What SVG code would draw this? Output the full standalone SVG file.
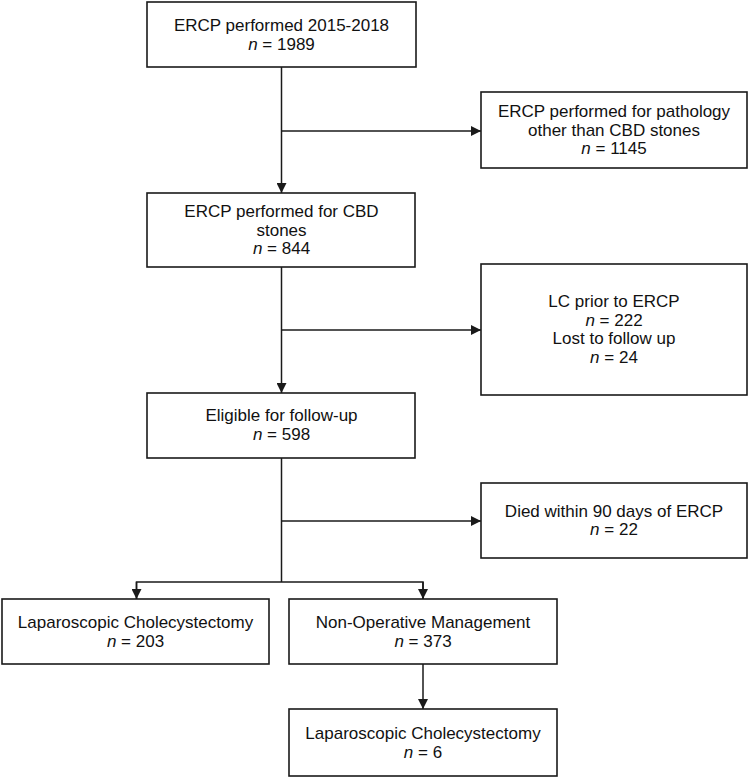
<svg xmlns="http://www.w3.org/2000/svg" width="750" height="778" viewBox="0 0 750 778">
<style>
.box{fill:#fff;stroke:#1a1a1a;stroke-width:1.6}
.ln{fill:none;stroke:#1a1a1a;stroke-width:1.5}
text{font-family:"Liberation Sans",Arial,sans-serif;font-size:17px;fill:#111;text-anchor:middle}
.i{font-style:italic}
</style>
<defs>
<marker id="ah" markerUnits="userSpaceOnUse" markerWidth="10" markerHeight="10" viewBox="0 0 10 10" refX="10" refY="5" orient="auto">
<path d="M0,0 L10,5 L0,10 z" fill="#1a1a1a"/>
</marker>
</defs>
<rect width="750" height="778" fill="#fff"/>
<g id="connectors">
<line class="ln" x1="281.5" y1="67" x2="281.5" y2="193" marker-end="url(#ah)"/>
<line class="ln" x1="281.5" y1="131" x2="481" y2="131" marker-end="url(#ah)"/>
<line class="ln" x1="281.5" y1="267" x2="281.5" y2="393" marker-end="url(#ah)"/>
<line class="ln" x1="281.5" y1="330" x2="481" y2="330" marker-end="url(#ah)"/>
<line class="ln" x1="281.5" y1="458" x2="281.5" y2="582"/>
<line class="ln" x1="281.5" y1="521" x2="481" y2="521" marker-end="url(#ah)"/>
<polyline class="ln" points="136.5,599 136.5,582 423,582 423,599"/>
<line class="ln" x1="136.5" y1="582" x2="136.5" y2="599" marker-end="url(#ah)"/>
<line class="ln" x1="423" y1="582" x2="423" y2="599" marker-end="url(#ah)"/>
<line class="ln" x1="423" y1="664" x2="423" y2="709" marker-end="url(#ah)"/>
</g>
<g id="n1">
<rect class="box" x="147" y="2" width="269" height="65"/>
<text x="281.5" y="31">ERCP performed 2015-2018</text>
<text x="281.5" y="49.5"><tspan class="i">n</tspan> = 1989</text>
</g>
<g id="n2">
<rect class="box" x="481" y="92" width="266" height="76"/>
<text x="614" y="117">ERCP performed for pathology</text>
<text x="614" y="135.5">other than CBD stones</text>
<text x="614" y="154"><tspan class="i">n</tspan> = 1145</text>
</g>
<g id="n3">
<rect class="box" x="147" y="193" width="268" height="74"/>
<text x="281.5" y="217">ERCP performed for CBD</text>
<text x="281.5" y="235.5">stones</text>
<text x="281.5" y="254"><tspan class="i">n</tspan> = 844</text>
</g>
<g id="n4">
<rect class="box" x="481" y="264" width="266" height="131"/>
<text x="614" y="307">LC prior to ERCP</text>
<text x="614" y="325.5"><tspan class="i">n</tspan> = 222</text>
<text x="614" y="344">Lost to follow up</text>
<text x="614" y="362.5"><tspan class="i">n</tspan> = 24</text>
</g>
<g id="n5">
<rect class="box" x="147" y="393" width="268" height="65"/>
<text x="281.5" y="421">Eligible for follow-up</text>
<text x="281.5" y="439.5"><tspan class="i">n</tspan> = 598</text>
</g>
<g id="n6">
<rect class="box" x="481" y="483" width="266" height="75"/>
<text x="614" y="516.5">Died within 90 days of ERCP</text>
<text x="614" y="535"><tspan class="i">n</tspan> = 22</text>
</g>
<g id="n7">
<rect class="box" x="2" y="599" width="267" height="65"/>
<text x="135.5" y="628">Laparoscopic Cholecystectomy</text>
<text x="135.5" y="646.5"><tspan class="i">n</tspan> = 203</text>
</g>
<g id="n8">
<rect class="box" x="289" y="599" width="268" height="65"/>
<text x="423" y="628">Non-Operative Management</text>
<text x="423" y="646.5"><tspan class="i">n</tspan> = 373</text>
</g>
<g id="n9">
<rect class="box" x="289" y="709" width="268" height="67"/>
<text x="423" y="739">Laparoscopic Cholecystectomy</text>
<text x="423" y="757.5"><tspan class="i">n</tspan> = 6</text>
</g>
</svg>
